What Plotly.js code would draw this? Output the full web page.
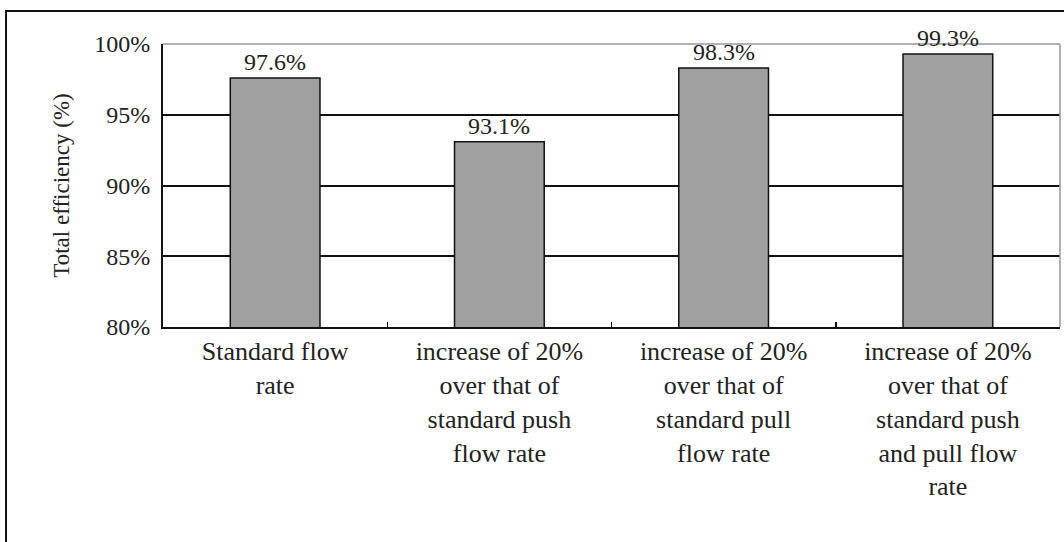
<!DOCTYPE html>
<html>
<head>
<meta charset="utf-8">
<script src="https://cdn.plot.ly/plotly-3.0.1.min.js"></script>
<style>html,body{margin:0;padding:0;background:#fff;}#chart{width:1064px;height:542px;}</style>
</head>
<body>
<div id="chart"></div>
<script>
var categories = [
  "Standard flow<br>rate",
  "increase of 20%<br>over that of<br>standard push<br>flow rate",
  "increase of 20%<br>over that of<br>standard pull<br>flow rate",
  "increase of 20%<br>over that of<br>standard push<br>and pull flow<br>rate"
];
var efficiency = [97.6, 93.1, 98.3, 99.3];
var yTickValues = [80, 85, 90, 95, 100];

var FONT = "Liberation Serif, Times New Roman, serif";
var TXT = "#222222";

var trace = {
  type: "bar",
  x: categories,
  y: efficiency,
  width: 0.4,
  marker: {color: "#a0a0a0", line: {color: "#111111", width: 1.5}},
  hoverinfo: "skip"
};

var labels = efficiency.map(function(v, i){
  return {
    x: categories[i], y: v, xref: "x", yref: "y",
    text: v.toFixed(1) + "%", showarrow: false,
    yanchor: "bottom", yshift: 1,
    font: {family: FONT, size: 24, color: TXT}
  };
});

var layout = {
  width: 1064, height: 542,
  margin: {l: 163, r: 4, t: 44, b: 215},
  paper_bgcolor: "#ffffff", plot_bgcolor: "#ffffff",
  showlegend: false,
  font: {family: FONT, color: TXT},
  xaxis: {
    type: "category",
    showline: true, linecolor: "#111111", linewidth: 2,
    ticks: "inside", tickson: "boundaries", ticklen: 5, tickcolor: "#111111", tickwidth: 1.5,
    tickfont: {family: FONT, size: 26, color: TXT},
    showgrid: false, zeroline: false, automargin: false
  },
  yaxis: {
    range: [80, 100],
    tickvals: yTickValues,
    ticktext: yTickValues.map(function(v){ return v + "%"; }),
    showline: true, linecolor: "#111111", linewidth: 2,
    ticks: "inside", ticklen: 8, tickcolor: "#111111", tickwidth: 1.5,
    ticklabelstandoff: 6,
    tickfont: {family: FONT, size: 24, color: TXT},
    showgrid: true, gridcolor: "#111111", gridwidth: 2,
    zeroline: false, automargin: false,
    title: {text: "Total efficiency (%)", font: {family: FONT, size: 23, color: TXT}, standoff: 18}
  },
  annotations: labels,
  shapes: [
    {type: "line", xref: "paper", yref: "paper", x0: 0, x1: 1, y0: 1, y1: 1, line: {color: "#999999", width: 1.5}},
    {type: "line", xref: "paper", yref: "paper", x0: 1, x1: 1, y0: 0, y1: 1, line: {color: "#999999", width: 1.5}},
    {type: "rect", xref: "paper", yref: "paper", x0: -0.175, x1: 1.05, y0: -1.0, y1: 1.1166, line: {color: "#111111", width: 2}, layer: "below"}
  ]
};

Plotly.newPlot("chart", [trace], layout, {displayModeBar: false, staticPlot: true});
</script>
</body>
</html>
